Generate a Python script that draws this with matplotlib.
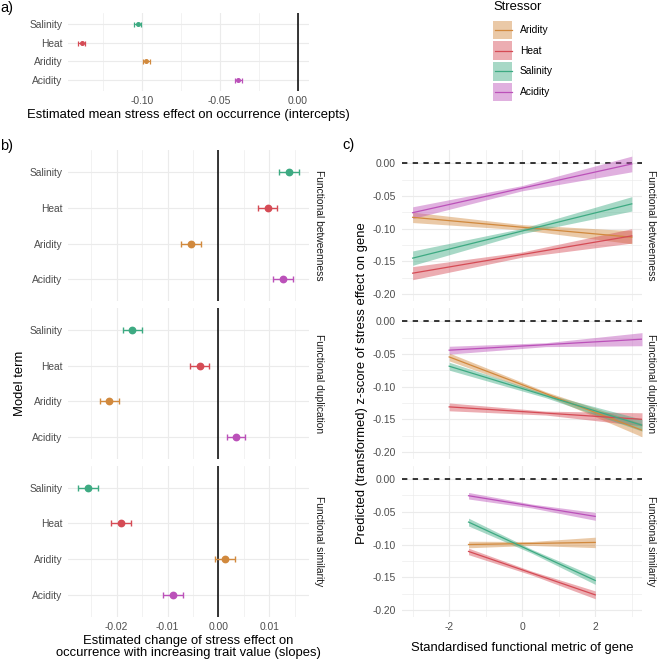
import matplotlib
matplotlib.use("Agg")
import matplotlib.pyplot as plt
from matplotlib.ticker import MultipleLocator, FormatStrFormatter, NullLocator
from matplotlib.patches import Rectangle

plt.rcParams['font.family'] = ['Liberation Sans', 'DejaVu Sans']
plt.rcParams['axes.unicode_minus'] = False

# ---------------- data ----------------
stressors = ["Aridity", "Heat", "Salinity", "Acidity"]          # legend order
row_order = ["Acidity", "Aridity", "Heat", "Salinity"]          # bottom -> top in a) and b)
colors = {"Aridity": "#D1893D", "Heat": "#D54B55", "Salinity": "#3DAA82", "Acidity": "#BB51B9"}

# a) intercepts (estimate, half-width of interval), order = stressors
intercept_est = [-0.0970, -0.1385, -0.1027, -0.0380]
intercept_err = [0.0023, 0.0023, 0.0023, 0.0023]

# b) slopes per functional metric, order = stressors
facets = ["Functional betweenness", "Functional duplication", "Functional similarity"]
slope_betweenness = [-0.0054, 0.0097, 0.0139, 0.0127]
slope_duplication = [-0.0214, -0.0037, -0.0169, 0.0034]
slope_similarity = [0.0013, -0.0192, -0.0256, -0.0089]
slope_err_betweenness = [0.0019, 0.0019, 0.0019, 0.0019]
slope_err_duplication = [0.0018, 0.0018, 0.0018, 0.0018]
slope_err_similarity = [0.0020, 0.0020, 0.0020, 0.0020]

# c) predicted lines: x positions (left, mid, right) per facet
pred_x_betweenness = [-3.0, 0.0, 3.0]
pred_x_duplication = [-2.0, 0.64, 3.28]
pred_x_similarity = [-1.47, 0.265, 2.0]
# fitted values at those x positions, per stressor
pred_betweenness = {"Aridity": [-0.0826, -0.0978, -0.1130], "Heat": [-0.1680, -0.1395, -0.1110],
                    "Salinity": [-0.1450, -0.1035, -0.0620], "Acidity": [-0.0755, -0.0380, -0.0010]}
pred_duplication = {"Aridity": [-0.0546, -0.1107, -0.1667], "Heat": [-0.1310, -0.1405, -0.1500],
                    "Salinity": [-0.0688, -0.1139, -0.1590], "Acidity": [-0.0443, -0.0359, -0.0275]}
pred_similarity = {"Aridity": [-0.1000, -0.0984, -0.0968], "Heat": [-0.1106, -0.1438, -0.1770],
                   "Salinity": [-0.0657, -0.1104, -0.1550], "Acidity": [-0.0254, -0.0412, -0.0570]}
# half-width of confidence band at those x positions
band_betweenness = {"Aridity": [0.008, 0.004, 0.010], "Heat": [0.010, 0.004, 0.011],
                    "Salinity": [0.011, 0.004, 0.011], "Acidity": [0.009, 0.004, 0.012]}
band_duplication = {"Aridity": [0.006, 0.003, 0.010], "Heat": [0.006, 0.003, 0.010],
                    "Salinity": [0.006, 0.003, 0.009], "Acidity": [0.006, 0.003, 0.010]}
band_similarity = {"Aridity": [0.005, 0.003, 0.008], "Heat": [0.005, 0.003, 0.006],
                   "Salinity": [0.006, 0.003, 0.006], "Acidity": [0.005, 0.003, 0.006]}

# ---------------- layout helpers ----------------
W, H = 657, 662
fig = plt.figure(figsize=(W / 100, H / 100), dpi=100)

def add_ax(l, t, r, b):
    return fig.add_axes([l / W, 1 - b / H, (r - l) / W, (b - t) / H])

def ftext(x, y, s, **kw):
    return fig.text(x / W, 1 - y / H, s, **kw)

TICK = 7.4
TITLE = 9.4
GRID = "#EBEBEB"
TICKCOL = "#4D4D4D"

def style(ax):
    for sp in ax.spines.values():
        sp.set_visible(False)
    ax.tick_params(which="both", length=0, labelsize=TICK, labelcolor=TICKCOL, pad=3.5)
    ax.grid(True, which="major", color=GRID, lw=0.85, zorder=0)
    ax.grid(True, which="minor", color=GRID, lw=0.45, zorder=0)
    ax.set_axisbelow(True)

# ---------------- a) ----------------
ax_a = add_ax(67.5, 12.8, 309.5, 91.2)
style(ax_a)
ax_a.set_xlim(-0.1476, 0.0076)
ax_a.set_ylim(0.4, 4.6)
ax_a.xaxis.set_major_locator(MultipleLocator(0.05))
ax_a.xaxis.set_minor_locator(MultipleLocator(0.025))
ax_a.xaxis.set_major_formatter(FormatStrFormatter("%.2f"))
ax_a.set_yticks(range(1, 5))
ax_a.set_yticklabels(row_order)
ax_a.yaxis.set_minor_locator(NullLocator())
ax_a.axvline(0, color="black", lw=1.1, zorder=2)
for i, s in enumerate(stressors):
    ax_a.errorbar(intercept_est[i], row_order.index(s) + 1, xerr=intercept_err[i], fmt="o",
                  ms=2.6, color=colors[s], elinewidth=0.9, capsize=1.8, capthick=0.9, zorder=3)
ftext(188.5, 115, "Estimated mean stress effect on occurrence (intercepts)",
      ha="center", va="center", fontsize=TITLE)

# ---------------- b) ----------------
b_tops = [150.3, 308.2, 466.1]
FH = 150.6
slopes = [slope_betweenness, slope_duplication, slope_similarity]
slope_errs = [slope_err_betweenness, slope_err_duplication, slope_err_similarity]
for k, top in enumerate(b_tops):
    ax = add_ax(67.5, top, 309.5, top + FH)
    style(ax)
    ax.set_xlim(-0.02965, 0.0179)
    ax.set_ylim(0.4, 4.6)
    ax.xaxis.set_major_locator(MultipleLocator(0.01))
    ax.xaxis.set_minor_locator(MultipleLocator(0.005))
    ax.xaxis.set_major_formatter(FormatStrFormatter("%.2f"))
    ax.set_yticks(range(1, 5))
    ax.set_yticklabels(row_order)
    ax.yaxis.set_minor_locator(NullLocator())
    if k < 2:
        ax.tick_params(axis="x", labelbottom=False)
    ax.axvline(0, color="black", lw=1.1, zorder=2)
    for i, s in enumerate(stressors):
        ax.errorbar(slopes[k][i], row_order.index(s) + 1, xerr=slope_errs[k][i], fmt="o",
                    ms=4.6, color=colors[s], elinewidth=1.0, capsize=2.3, capthick=1.0, zorder=3)
    ftext(318.5, top + FH / 2, facets[k], rotation=-90, ha="center", va="center",
          fontsize=TICK, color="#1A1A1A")

ftext(20, 383.5, "Model term", rotation=90, ha="center", va="center", fontsize=TITLE)
ftext(188.5, 647, "Estimated change of stress effect on\noccurrence with increasing trait value (slopes)",
      ha="center", va="center", fontsize=TITLE, linespacing=1.07)

# ---------------- c) ----------------
pred_x = [pred_x_betweenness, pred_x_duplication, pred_x_similarity]
preds = [pred_betweenness, pred_duplication, pred_similarity]
bands = [band_betweenness, band_duplication, band_similarity]
for k, top in enumerate(b_tops):
    ax = add_ax(401.7, top, 642, top + FH)
    style(ax)
    ax.set_xlim(-3.3, 3.28)
    ax.set_ylim(-0.2104, 0.0199)
    ax.xaxis.set_major_locator(MultipleLocator(2))
    ax.xaxis.set_minor_locator(MultipleLocator(1))
    ax.xaxis.set_major_formatter(FormatStrFormatter("%d"))
    ax.yaxis.set_major_locator(MultipleLocator(0.05))
    ax.yaxis.set_minor_locator(MultipleLocator(0.025))
    ax.yaxis.set_major_formatter(FormatStrFormatter("%.2f"))
    ax.tick_params(axis="y", pad=4.5)
    if k < 2:
        ax.tick_params(axis="x", labelbottom=False)
    ax.axhline(0, color="black", lw=1.1, ls=(0, (3.5, 3.5)), zorder=2)
    xs = pred_x[k]
    for s in stressors:
        ys = preds[k][s]
        hw = bands[k][s]
        lo = [y - h for y, h in zip(ys, hw)]
        hi = [y + h for y, h in zip(ys, hw)]
        ax.fill_between(xs, lo, hi, color=colors[s], alpha=0.45, lw=0, zorder=3)
        ax.plot(xs, ys, color=colors[s], lw=0.9, zorder=4)
    ftext(651, top + FH / 2, facets[k], rotation=-90, ha="center", va="center",
          fontsize=TICK, color="#1A1A1A")

ftext(362.5, 383.5, "Predicted (transformed) z-score of stress effect on gene", rotation=90,
      ha="center", va="center", fontsize=TITLE)
ftext(522, 648.3, "Standardised functional metric of gene", ha="center", va="center", fontsize=TITLE)

# ---------------- legend ----------------
ax_l = add_ax(480, 0, 600, 110)
ax_l.set_xlim(480, 600)
ax_l.set_ylim(110, 0)
ax_l.axis("off")
ax_l.text(493, 7.5, "Stressor", ha="left", va="center", fontsize=TITLE)
key_tops = [20.7, 41.4, 62.1, 82.8]
for s, kt in zip(stressors, key_tops):
    ax_l.add_patch(Rectangle((493.3, kt), 19, 18.6, facecolor=colors[s], alpha=0.45, lw=0))
    ax_l.plot([494.5, 511.5], [kt + 9.3, kt + 9.3], color=colors[s], lw=0.9)
    ax_l.text(520, kt + 9.3, s, ha="left", va="center", fontsize=TICK, color="black")

# ---------------- panel tags ----------------
ftext(0, 8, "a)", ha="left", va="center", fontsize=10.5)
ftext(0, 146, "b)", ha="left", va="center", fontsize=10.5)
ftext(342, 145, "c)", ha="left", va="center", fontsize=10.5)

fig.savefig("out.png", dpi=100)
